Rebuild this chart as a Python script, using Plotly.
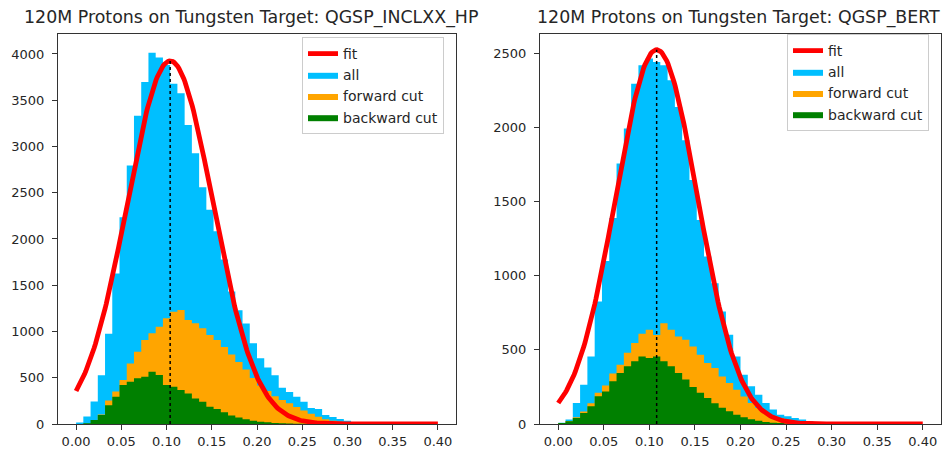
import numpy as np
import plotly.graph_objects as go

# ---------------- data ----------------
BIN_LO, BIN_HI, N_BINS = 0.0, 0.40, 50

left_title = "120M Protons on Tungsten Target: QGSP_INCLXX_HP"
right_title = "120M Protons on Tungsten Target: QGSP_BERT"

left_all = [15, 81, 244, 528, 975, 1626, 2235, 2794, 3332, 3698,
            4013, 3962, 3881, 3678, 3576, 3231, 2926, 2560, 2316, 2083,
            1778, 1433, 1229, 1087, 874, 711, 610, 528, 391, 345,
            295, 241, 173, 163, 98, 75, 54, 36, 22, 15,
            10, 7, 5, 3, 2, 1, 1, 1, 0, 0]
left_forward = [0, 3, 10, 102, 254, 350, 475, 655, 781, 908,
                980, 1052, 1142, 1214, 1232, 1124, 1088, 1034, 962, 908,
                833, 752, 671, 589, 498, 417, 356, 300, 259, 224,
                183, 147, 112, 79, 51, 36, 25, 18, 12, 8,
                5, 3, 2, 1, 0, 0, 0, 0, 0, 0]
left_backward = [0, 7, 44, 98, 203, 295, 422, 457, 494, 511,
                 565, 529, 422, 403, 368, 331, 277, 241, 187, 163,
                 127, 91, 71, 51, 36, 25, 18, 12, 8, 5,
                 3, 2, 1, 1, 0, 0, 0, 0, 0, 0,
                 0, 0, 0, 0, 0, 0, 0, 0, 0, 0]
left_fit = dict(amp=3925, mean=0.104, sigma=0.0475)

right_all = [8, 30, 142, 265, 456, 826, 1100, 1390, 1757, 1993,
             2295, 2419, 2464, 2441, 2420, 2318, 2138, 1914, 1645, 1375,
             1130, 950, 758, 602, 456, 332, 254, 198, 142, 97,
             63, 52, 41, 30, 18, 12, 8, 5, 3, 2,
             1, 1, 0, 0, 0, 0, 0, 0, 0, 0]
right_forward = [7, 20, 45, 85, 140, 210, 260, 340, 400, 480,
                 546, 608, 635, 600, 680, 635, 590, 568, 523, 467,
                 411, 377, 321, 276, 231, 186, 142, 108, 75, 52,
                 41, 28, 18, 12, 8, 5, 3, 2, 1, 0,
                 0, 0, 0, 0, 0, 0, 0, 0, 0, 0]
right_backward = [7, 18, 41, 75, 120, 187, 220, 288, 344, 389,
                  423, 456, 445, 456, 423, 389, 344, 300, 250, 210,
                  175, 140, 110, 86, 63, 45, 32, 22, 14, 9,
                  6, 4, 2, 1, 0, 0, 0, 0, 0, 0,
                  0, 0, 0, 0, 0, 0, 0, 0, 0, 0]
right_fit = dict(amp=2524, mean=0.108, sigma=0.045)

x_ticks = [0.00, 0.05, 0.10, 0.15, 0.20, 0.25, 0.30, 0.35, 0.40]
left_yticks = [0, 500, 1000, 1500, 2000, 2500, 3000, 3500, 4000]
right_yticks = [0, 500, 1000, 1500, 2000, 2500]

# ---------------- figure ----------------
W, H = 945, 449
edges = np.linspace(BIN_LO, BIN_HI, N_BINS + 1)
fit_x = np.linspace(BIN_LO, BIN_HI, 300)

C_ALL = "#00BFFF"
C_FWD = "#FFA500"
C_BWD = "#008000"
C_FIT = "#FF0000"
FONT = "DejaVu Sans"
TXT = "#262626"

fig = go.Figure()


def add_panel(xa, ya, legend, allv, fwd, bwd, fit):
    ranks = {"all": 2, "forward cut": 3, "backward cut": 4}
    for name, vals, col in [("all", allv, C_ALL), ("forward cut", fwd, C_FWD),
                            ("backward cut", bwd, C_BWD)]:
        y = list(vals) + [vals[-1]]
        fig.add_trace(go.Scatter(
            x=edges, y=y, mode="lines", line=dict(shape="hv", width=0, color=col),
            fill="tozeroy", fillcolor=col, name=name, xaxis=xa, yaxis=ya,
            legend=legend, legendrank=ranks[name], hoverinfo="skip"))
    fy = fit["amp"] * np.exp(-(fit_x - fit["mean"]) ** 2 / (2 * fit["sigma"] ** 2))
    fig.add_trace(go.Scatter(x=fit_x, y=fy, mode="lines", line=dict(color=C_FIT, width=4.8),
                             name="fit", xaxis=xa, yaxis=ya, legend=legend, legendrank=1))
    fig.add_trace(go.Scatter(x=[fit["mean"], fit["mean"]], y=[0, fit["amp"]], mode="lines",
                             line=dict(color="black", width=1.5, dash="dot"),
                             showlegend=False, xaxis=xa, yaxis=ya))


add_panel("x", "y", "legend", left_all, left_forward, left_backward, left_fit)
add_panel("x2", "y2", "legend2", right_all, right_forward, right_backward, right_fit)


def px_x(p):
    return p / W


def px_y(p):
    return 1 - p / H


axis_common = dict(showline=True, linecolor="#333333", linewidth=1, mirror=True,
                   ticks="outside", ticklen=5, tickcolor="#333333", showgrid=False,
                   zeroline=False, automargin=False,
                   tickfont=dict(family=FONT, size=13, color=TXT))

legend_common = dict(xanchor="left", yanchor="top", bordercolor="#cccccc", borderwidth=1,
                     bgcolor="rgba(255,255,255,0.8)", traceorder="normal",
                     font=dict(family=FONT, size=14, color=TXT))

fig.update_layout(
    template="none",
    width=W, height=H, margin=dict(l=0, r=0, t=0, b=0, autoexpand=False),
    paper_bgcolor="white", plot_bgcolor="white",
    xaxis=dict(domain=[px_x(58), px_x(456)], range=[-0.02, 0.42], anchor="y",
               tickvals=x_ticks, tickformat=".2f", **axis_common),
    yaxis=dict(domain=[px_y(424), px_y(34)], range=[0, 4216], anchor="x",
               tickvals=left_yticks, ticklabelstandoff=5, **axis_common),
    xaxis2=dict(domain=[px_x(540), px_x(941)], range=[-0.02, 0.42], anchor="y2",
                tickvals=x_ticks, tickformat=".2f", **axis_common),
    yaxis2=dict(domain=[px_y(424), px_y(34)], range=[0, 2630], anchor="x2",
                tickvals=right_yticks, ticklabelstandoff=5, **axis_common),
    legend=dict(x=px_x(302), y=px_y(37), **legend_common),
    legend2=dict(x=px_x(787), y=px_y(34), **legend_common),
    annotations=[
        dict(text=left_title, x=px_x(251), y=px_y(18), xref="paper", yref="paper",
             showarrow=False, xanchor="center", yanchor="middle",
             font=dict(family=FONT, size=17.4, color=TXT)),
        dict(text=right_title, x=px_x(738), y=px_y(18), xref="paper", yref="paper",
             showarrow=False, xanchor="center", yanchor="middle",
             font=dict(family=FONT, size=17.4, color=TXT)),
    ],
)

fig.write_html(
    "out.html",
    config={"displayModeBar": False},
    post_script="document.body.style.margin='0';document.body.style.overflow='hidden';",
)
